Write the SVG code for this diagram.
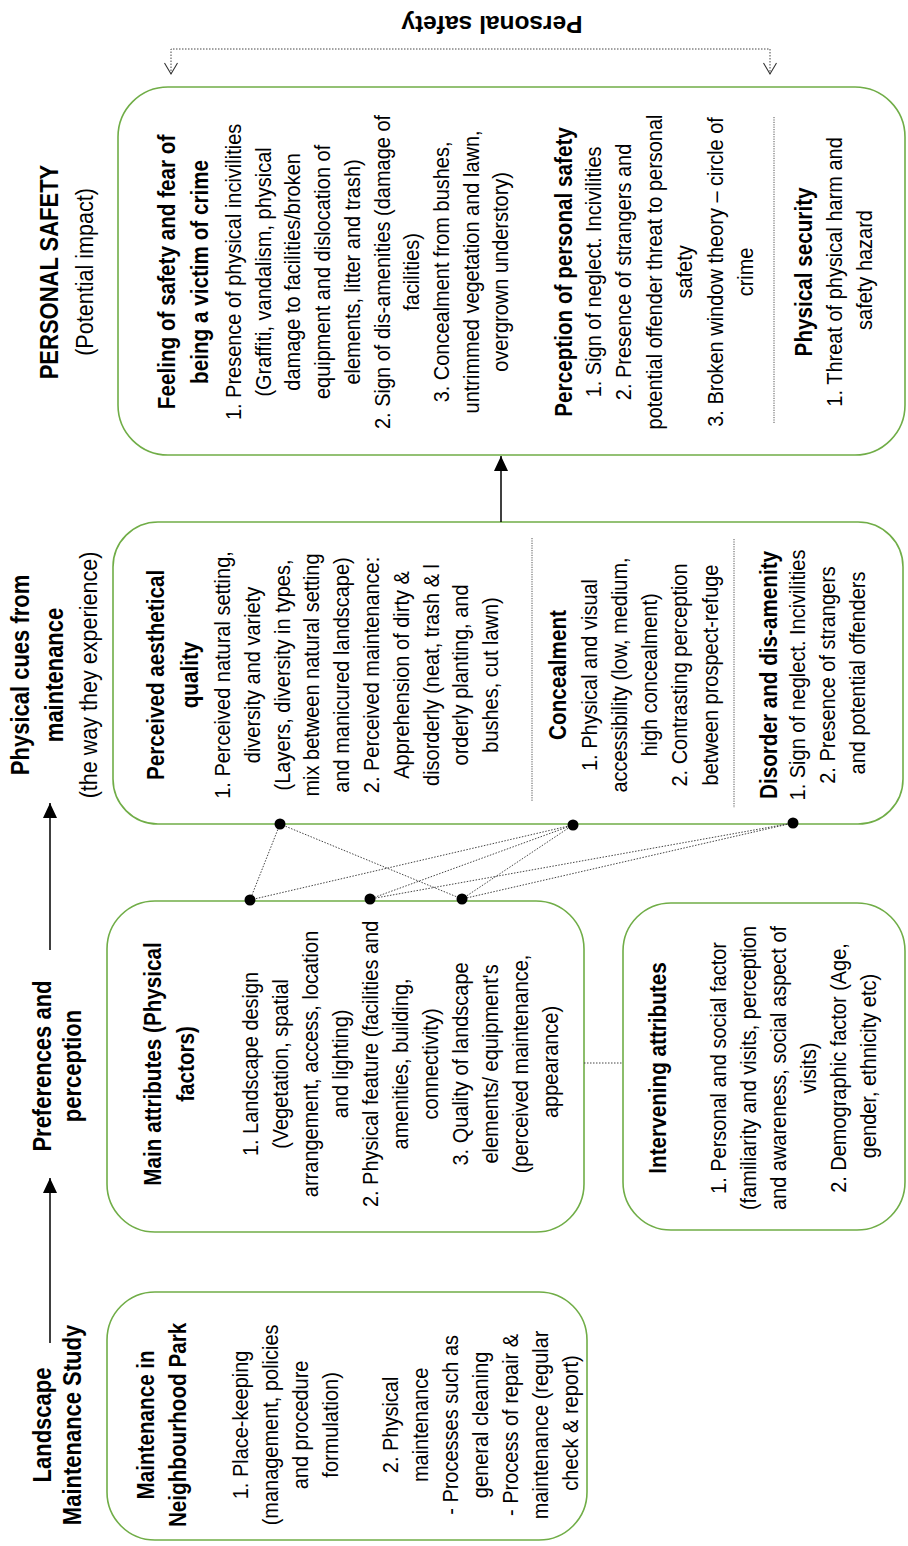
<svg xmlns="http://www.w3.org/2000/svg" width="908" height="1546" viewBox="0 0 908 1546">
<defs>
<style>
.box{fill:#fff;stroke:#70ad47;stroke-width:1.6}
text{font-family:"Liberation Sans",Arial,sans-serif;fill:#000;text-anchor:middle}
.t{font-size:25px;font-weight:bold}
.s{font-size:24.5px}
.h{font-size:23.5px;font-weight:bold}
.b{font-size:22.7px}
.dot{stroke:#444;stroke-width:1;stroke-dasharray:1.5 1.5;fill:none}
.sol{stroke:#000;stroke-width:1.5;fill:none}
.sep{stroke:#555;stroke-width:1;stroke-dasharray:1.2 1.2}
</style>
<marker id="ah" markerUnits="userSpaceOnUse" markerWidth="16" markerHeight="16" refX="15" refY="7" orient="auto" overflow="visible">
<path d="M0,0 L15,7 L0,14 z" fill="#000"/>
</marker>
<marker id="oh" markerUnits="userSpaceOnUse" markerWidth="14" markerHeight="14" refX="11" refY="6.5" orient="auto-start-reverse" overflow="visible">
<path d="M0,0 L11,6.5 L0,13" fill="none" stroke="#333" stroke-width="1.1"/>
</marker>
</defs>
<rect width="908" height="1546" fill="#fff"/>

<g id="title-landscape">
<text class="t" transform="rotate(-90) scale(0.88,1)"><tspan x="-1619.3" y="51">Landscape</tspan><tspan x="-1619.3" y="81">Maintenance Study</tspan></text>
</g>
<g id="title-preferences">
<text class="t" transform="rotate(-90) scale(0.88,1)"><tspan x="-1211.4" y="51">Preferences and</tspan><tspan x="-1211.4" y="81">perception</tspan></text>
</g>
<g id="title-physical-cues">
<text transform="rotate(-90) scale(0.88,1)"><tspan class="t" x="-767" y="29">Physical cues from</tspan><tspan class="t" x="-767" y="63">maintenance</tspan><tspan class="s" x="-767" y="97">(the way they experience)</tspan></text>
</g>
<g id="title-personal-safety">
<text transform="rotate(-90) scale(0.88,1)"><tspan class="t" x="-309.1" y="58">PERSONAL SAFETY</tspan><tspan class="s" x="-309.1" y="93">(Potential impact)</tspan></text>
</g>
<g id="label-personal-safety">
<text style="font-size:24.5px;font-weight:bold" transform="rotate(180)" x="-492" y="-16">Personal safety</text>
</g>

<g id="node-maintenance">
<rect class="box" x="107" y="1292" width="480" height="248" rx="48"/>
<text transform="rotate(-90) scale(0.88,1)">
<tspan class="h" x="-1617" y="154">Maintenance in</tspan>
<tspan class="h" x="-1617" y="186">Neighbourhood Park</tspan>
<tspan class="b" x="-1617" y="248">1. Place-keeping</tspan>
<tspan class="b" x="-1617" y="278">(management, policies</tspan>
<tspan class="b" x="-1617" y="308">and procedure</tspan>
<tspan class="b" x="-1617" y="338">formulation)</tspan>
<tspan class="b" x="-1617" y="398">2. Physical</tspan>
<tspan class="b" x="-1617" y="428">maintenance</tspan>
<tspan class="b" x="-1617" y="458">- Processes such as</tspan>
<tspan class="b" x="-1617" y="488">general cleaning</tspan>
<tspan class="b" x="-1617" y="518">- Process of repair &amp;</tspan>
<tspan class="b" x="-1617" y="548">maintenance (regular</tspan>
<tspan class="b" x="-1617" y="578">check &amp; report)</tspan>
</text>
</g>

<g id="node-main-attributes">
<rect class="box" x="107" y="901" width="477" height="331" rx="48"/>
<text transform="rotate(-90) scale(0.88,1)">
<tspan class="h" x="-1206.8" y="161">Main attributes (Physical</tspan>
<tspan class="h" x="-1206.8" y="194">factors)</tspan>
<tspan class="b" x="-1206.8" y="258">1. Landscape design</tspan>
<tspan class="b" x="-1206.8" y="288">(Vegetation, spatial</tspan>
<tspan class="b" x="-1206.8" y="318">arrangement, access, location</tspan>
<tspan class="b" x="-1206.8" y="348">and lighting)</tspan>
<tspan class="b" x="-1206.8" y="378">2. Physical feature (facilities and</tspan>
<tspan class="b" x="-1206.8" y="408">amenities, building,</tspan>
<tspan class="b" x="-1206.8" y="438">connectivity)</tspan>
<tspan class="b" x="-1206.8" y="468">3. Quality of landscape</tspan>
<tspan class="b" x="-1206.8" y="498">elements/ equipment's</tspan>
<tspan class="b" x="-1206.8" y="528">(perceived maintenance,</tspan>
<tspan class="b" x="-1206.8" y="558">appearance)</tspan>
</text>
</g>

<g id="node-intervening">
<rect class="box" x="623" y="903" width="282" height="327" rx="48"/>
<text transform="rotate(-90) scale(0.88,1)">
<tspan class="h" x="-1211.4" y="666">Intervening attributes</tspan>
<tspan class="b" x="-1211.4" y="726">1. Personal and social factor</tspan>
<tspan class="b" x="-1211.4" y="756">(familiarity and visits, perception</tspan>
<tspan class="b" x="-1211.4" y="786">and awareness, social aspect of</tspan>
<tspan class="b" x="-1211.4" y="816">visits)</tspan>
<tspan class="b" x="-1211.4" y="846">2. Demographic factor (Age,</tspan>
<tspan class="b" x="-1211.4" y="876">gender, ethnicity etc)</tspan>
</text>
</g>

<g id="node-physical-cues">
<rect class="box" x="113" y="522" width="790" height="302" rx="45"/>
<line class="sep" x1="532" y1="538" x2="532" y2="802"/>
<line class="sep" x1="734" y1="539" x2="734" y2="808"/>
<text transform="rotate(-90) scale(0.88,1)">
<tspan class="h" x="-764.8" y="164">Perceived aesthetical</tspan>
<tspan class="h" x="-764.8" y="198">quality</tspan>
<tspan class="b" x="-764.8" y="230">1. Perceived natural setting,</tspan>
<tspan class="b" x="-764.8" y="260">diversity and variety</tspan>
<tspan class="b" x="-764.8" y="290">(Layers, diversity in types,</tspan>
<tspan class="b" x="-764.8" y="319">mix between natural setting</tspan>
<tspan class="b" x="-764.8" y="349">and manicured landscape)</tspan>
<tspan class="b" x="-764.8" y="379">2. Perceived maintenance:</tspan>
<tspan class="b" x="-764.8" y="409">Apprehension of dirty &amp;</tspan>
<tspan class="b" x="-764.8" y="439">disorderly (neat, trash &amp; l</tspan>
<tspan class="b" x="-764.8" y="468">orderly planting, and</tspan>
<tspan class="b" x="-764.8" y="498">bushes, cut lawn)</tspan>
<tspan class="h" x="-764.8" y="566">Concealment</tspan>
<tspan class="b" x="-764.8" y="597">1. Physical and visual</tspan>
<tspan class="b" x="-764.8" y="627">accessibility (low, medium,</tspan>
<tspan class="b" x="-764.8" y="657">high concealment)</tspan>
<tspan class="b" x="-764.8" y="687">2. Contrasting perception</tspan>
<tspan class="b" x="-764.8" y="718">between prospect-refuge</tspan>
<tspan class="h" x="-764.8" y="777">Disorder and dis-amenity</tspan>
<tspan class="b" x="-764.8" y="805">1. Sign of neglect. Incivilities</tspan>
<tspan class="b" x="-764.8" y="835">2. Presence of strangers</tspan>
<tspan class="b" x="-764.8" y="865">and potential offenders</tspan>
</text>
</g>

<g id="node-personal-safety">
<rect class="box" x="118" y="87" width="787" height="368" rx="50"/>
<line class="sep" x1="774" y1="117" x2="774" y2="423"/>
<text transform="rotate(-90) scale(0.88,1)">
<tspan class="h" x="-306.8" y="175">Feeling of safety and fear of</tspan>
<tspan class="h" x="-306.8" y="208">being a victim of crime</tspan>
<tspan class="b" x="-306.8" y="241">1. Presence of physical incivilities</tspan>
<tspan class="b" x="-306.8" y="271">(Graffiti, vandalism, physical</tspan>
<tspan class="b" x="-306.8" y="300">damage to facilities/broken</tspan>
<tspan class="b" x="-306.8" y="330">equipment and dislocation of</tspan>
<tspan class="b" x="-306.8" y="360">elements, litter and trash)</tspan>
<tspan class="b" x="-306.8" y="390">2. Sign of dis-amenities (damage of</tspan>
<tspan class="b" x="-306.8" y="419">facilities)</tspan>
<tspan class="b" x="-306.8" y="449">3. Concealment from bushes,</tspan>
<tspan class="b" x="-306.8" y="479">untrimmed vegetation and lawn,</tspan>
<tspan class="b" x="-306.8" y="508">overgrown understory)</tspan>
<tspan class="h" x="-306.8" y="572">Perception of personal safety</tspan>
<tspan class="b" x="-306.8" y="601">1. Sign of neglect. Incivilities</tspan>
<tspan class="b" x="-306.8" y="631">2. Presence of strangers and</tspan>
<tspan class="b" x="-306.8" y="662">potential offender threat to personal</tspan>
<tspan class="b" x="-306.8" y="692">safety</tspan>
<tspan class="b" x="-306.8" y="723">3. Broken window theory – circle of</tspan>
<tspan class="b" x="-306.8" y="753">crime</tspan>
<tspan class="h" x="-306.8" y="812">Physical security</tspan>
<tspan class="b" x="-306.8" y="842">1. Threat of physical harm and</tspan>
<tspan class="b" x="-306.8" y="872">safety hazard</tspan>
</text>
</g>

<g id="connectors">
<line class="sol" x1="50" y1="1343" x2="50" y2="1178" marker-end="url(#ah)"/>
<line class="sol" x1="50" y1="950" x2="50" y2="803" marker-end="url(#ah)"/>
<line class="sol" x1="501" y1="522" x2="501" y2="456" marker-end="url(#ah)"/>
<path class="dot" d="M171,74 L171,49 L770,49 L770,74" marker-start="url(#oh)" marker-end="url(#oh)"/>
<line class="dot" x1="584" y1="1063" x2="623" y2="1063"/>
<line class="dot" x1="280" y1="824" x2="250" y2="900"/>
<line class="dot" x1="280" y1="824" x2="462" y2="899"/>
<line class="dot" x1="573" y1="825" x2="250" y2="900"/>
<line class="dot" x1="573" y1="825" x2="370" y2="899"/>
<line class="dot" x1="573" y1="825" x2="462" y2="899"/>
<line class="dot" x1="793" y1="823" x2="370" y2="899"/>
<line class="dot" x1="793" y1="823" x2="462" y2="899"/>
<circle cx="280" cy="824" r="5.5"/>
<circle cx="573" cy="825" r="5.5"/>
<circle cx="793" cy="823" r="5.5"/>
<circle cx="250" cy="900" r="5.5"/>
<circle cx="370" cy="899" r="5.5"/>
<circle cx="462" cy="899" r="5.5"/>
</g>
</svg>
